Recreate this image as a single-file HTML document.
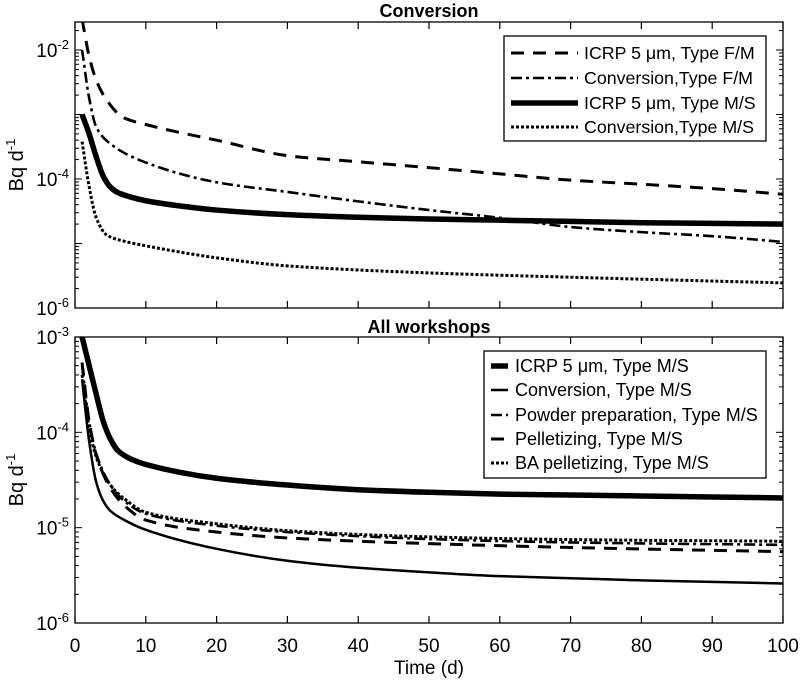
<!DOCTYPE html>
<html><head><meta charset="utf-8"><style>
html,body{margin:0;padding:0;background:#fff;}
svg text{font-family:"Liberation Sans",Arial,sans-serif;fill:#000;}
</style></head><body>
<svg id="chart" width="800" height="683" viewBox="0 0 800 683" xmlns="http://www.w3.org/2000/svg"></svg>
<script>
// ---- data ----
const topT_icrpFM = [1,2,3,4.5,6.8,10,15,20,30,40,50,60,70,80,90,100];
const topV_icrpFM = [0.03,0.008,3.4e-3,1.66e-3,9e-4,7e-4,5.2e-4,4e-4,2.3e-4,1.85e-4,1.5e-4,1.2e-4,9.6e-5,8.3e-5,7.1e-5,5.8e-5];
const topT_convFM = [1,2,3,5,10,20,30,40,50,60,70,80,90,100];
const topV_convFM = [1e-2,1.8e-3,6.4e-4,3.5e-4,1.8e-4,8.9e-5,6.3e-5,4.5e-5,3.3e-5,2.5e-5,1.8e-5,1.5e-5,1.3e-5,1.06e-5];
const topT_icrpMS = [1,2,3,4,5,6,8,10,15,20,30,40,50,60,70,80,90,100];
const topV_icrpMS = [1e-3,5e-4,2.2e-4,1.1e-4,7.5e-5,6.2e-5,5.2e-5,4.6e-5,3.8e-5,3.3e-5,2.8e-5,2.55e-5,2.4e-5,2.3e-5,2.2e-5,2.1e-5,2.05e-5,2e-5];
const topT_convMS = [1,2,3,4.5,7,10,20,30,50,70,100];
const topV_convMS = [3.8e-4,7.6e-5,2.5e-5,1.35e-5,1.08e-5,9.2e-6,6e-6,4.5e-6,3.5e-6,3e-6,2.45e-6];

const botT_icrpMS = [1,2,3,4,5,6,8,10,20,30,40,50,60,70,80,90,100];
const botV_icrpMS = [1e-3,5e-4,2.5e-4,1.3e-4,8.5e-5,6.5e-5,5.2e-5,4.6e-5,3.3e-5,2.8e-5,2.5e-5,2.35e-5,2.25e-5,2.2e-5,2.15e-5,2.1e-5,2.05e-5];
const botT_conv = [1,2,3,4,5,7,10,20,30,40,50,60,70,80,90,100];
const botV_conv = [3.6e-4,8e-5,3e-5,1.9e-5,1.5e-5,1.2e-5,9.5e-6,6e-6,4.5e-6,3.8e-6,3.4e-6,3.1e-6,2.95e-6,2.8e-6,2.7e-6,2.6e-6];
const botT_powder = [1,2,3,5,7,10,20,30,50,70,100];
const botV_powder = [5e-4,1.3e-4,6e-5,2.8e-5,1.9e-5,1.4e-5,1.05e-5,9e-6,7.6e-6,7e-6,6.6e-6];
const botT_pellet = [1,2,3,5,7,10,20,30,50,70,100];
const botV_pellet = [5.4e-4,1.3e-4,5.8e-5,2.6e-5,1.7e-5,1.2e-5,9e-6,7.8e-6,6.8e-6,6.2e-6,5.6e-6];
const botT_ba = [1,2,3,5,7,10,20,30,50,70,100];
const botV_ba = [4e-4,1.1e-4,5.5e-5,2.8e-5,2e-5,1.45e-5,1.1e-5,9.3e-6,8e-6,7.5e-6,7.2e-6];

const xTicks = [0,10,20,30,40,50,60,70,80,90,100];
const topYLabels = [-6,-4,-2];
const botYLabels = [-6,-5,-4,-3];

// ---- layout ----
const svg = document.getElementById('chart');
const NS = 'http://www.w3.org/2000/svg';
const X0 = 75, X1 = 783;
const xs = t => X0 + (t/100)*(X1-X0);
const topAx = {y0:22, y1:308, lmin:-6, lmax:-6+(308-22)/64.5};
const botAx = {y0:337, y1:623, lmin:-6, lmax:-3};
function ys(ax, v){ return ax.y1 - (Math.log10(v)-ax.lmin)/(ax.lmax-ax.lmin)*(ax.y1-ax.y0); }
function mk(tag, attrs, parent){ const e=document.createElementNS(NS,tag); for(const k in attrs) e.setAttribute(k,attrs[k]); (parent||svg).appendChild(e); return e; }

const defs = mk('defs',{});
[['clipTop',topAx],['clipBot',botAx]].forEach(([id,ax])=>{
  const c = mk('clipPath',{id:id},defs);
  mk('rect',{x:X0,y:ax.y0,width:X1-X0,height:ax.y1-ax.y0},c);
});

// monotone cubic path
function monotonePath(px, py){
  const n = px.length;
  const d = [], m = new Array(n);
  for(let i=0;i<n-1;i++) d.push((py[i+1]-py[i])/(px[i+1]-px[i]));
  m[0]=d[0]; m[n-1]=d[n-2];
  for(let i=1;i<n-1;i++){
    if(d[i-1]*d[i]<=0) m[i]=0;
    else { const w1=2*(px[i+1]-px[i])+(px[i]-px[i-1]), w2=(px[i+1]-px[i])+2*(px[i]-px[i-1]);
      m[i]=(w1+w2)/(w1/d[i-1]+w2/d[i]); }
  }
  let s = 'M'+px[0].toFixed(2)+','+py[0].toFixed(2);
  for(let i=0;i<n-1;i++){
    const h = (px[i+1]-px[i])/3;
    s += 'C'+(px[i]+h).toFixed(2)+','+(py[i]+m[i]*h).toFixed(2)+' '+(px[i+1]-h).toFixed(2)+','+(py[i+1]-m[i+1]*h).toFixed(2)+' '+px[i+1].toFixed(2)+','+py[i+1].toFixed(2);
  }
  return s;
}

function series(ax, clip, T, V, style, name){
  const px = T.map(xs), py = V.map(v=>ys(ax,v));
  const p = mk('path',Object.assign({d:monotonePath(px,py),fill:'none',stroke:'#000','stroke-linejoin':'round','clip-path':'url(#'+clip+')'},style));
  
  
}

function axes(ax, labels, prefix){
  const g = mk('g',{});
  
  
  mk('rect',{x:X0,y:ax.y0,width:X1-X0,height:ax.y1-ax.y0,fill:'none',stroke:'#000','stroke-width':1.3},g);
  xTicks.forEach(t=>{
    const x = xs(t);
    mk('line',{x1:x,x2:x,y1:ax.y1,y2:ax.y1-7,stroke:'#000','stroke-width':1.2},g);
    mk('line',{x1:x,x2:x,y1:ax.y0,y2:ax.y0+7,stroke:'#000','stroke-width':1.2},g);
  });
  for(let e=Math.floor(ax.lmin); e<=Math.ceil(ax.lmax); e++){
    for(let m=1;m<10;m++){
      const l = e + Math.log10(m);
      if(l<ax.lmin-1e-9||l>ax.lmax+1e-9) continue;
      const y = ys(ax, Math.pow(10,l));
      const len = m===1?7:4;
      mk('line',{x1:X0,x2:X0+len,y1:y,y2:y,stroke:'#000','stroke-width':1},g);
      mk('line',{x1:X1,x2:X1-len,y1:y,y2:y,stroke:'#000','stroke-width':1},g);
    }
  }
  labels.forEach(e=>{
    const y = ys(ax, Math.pow(10,e));
    const t = mk('text',{x:X0-6,y:y+7,'text-anchor':'end','font-size':19});
    
    
    t.appendChild(document.createTextNode('10'));
    const s = mk('tspan',{dy:-8,'font-size':13},t); s.textContent = String(e);
  });
  const yl = mk('text',{x:0,y:0,'font-size':20,'text-anchor':'middle',transform:'translate(23,'+((ax.y0+ax.y1)/2)+') rotate(-90)'});
  
  
  yl.appendChild(document.createTextNode('Bq d'));
  const s2 = mk('tspan',{dy:-8,'font-size':13},yl); s2.textContent='-1';
}

axes(topAx, topYLabels, 'top');
axes(botAx, botYLabels, 'bottom');

let tt = mk('text',{x:429,y:17,'text-anchor':'middle','font-size':18,'font-weight':'bold'}); tt.textContent='Conversion';
 
tt = mk('text',{x:429,y:333,'text-anchor':'middle','font-size':18,'font-weight':'bold'}); tt.textContent='All workshops';
 
xTicks.forEach(t=>{
  const l = mk('text',{x:xs(t),y:652,'text-anchor':'middle','font-size':19}); l.textContent=String(t);
   
});
tt = mk('text',{x:429,y:674,'text-anchor':'middle','font-size':19}); tt.textContent='Time (d)';
 

const stDash = {'stroke-width':3,'stroke-dasharray':'13,9'};
const stDashDot = {'stroke-width':2.6,'stroke-dasharray':'11,4,3,4'};
const stThick = {'stroke-width':5.5};
const stThin = {'stroke-width':2.5};
const stDot = {'stroke-width':3,'stroke-dasharray':'3,2'};

series(topAx,'clipTop',topT_icrpFM,topV_icrpFM,stDash,'line-icrp-fm');
series(topAx,'clipTop',topT_convFM,topV_convFM,stDashDot,'line-conversion-fm');
series(topAx,'clipTop',topT_icrpMS,topV_icrpMS,stThick,'line-icrp-ms');
series(topAx,'clipTop',topT_convMS,topV_convMS,stDot,'line-conversion-ms');

series(botAx,'clipBot',botT_icrpMS,botV_icrpMS,stThick,'line-icrp-ms-all');
series(botAx,'clipBot',botT_conv,botV_conv,stThin,'line-conversion-all');
series(botAx,'clipBot',botT_powder,botV_powder,stDashDot,'line-powder-preparation');
series(botAx,'clipBot',botT_pellet,botV_pellet,stDash,'line-pelletizing');
series(botAx,'clipBot',botT_ba,botV_ba,stDot,'line-ba-pelletizing');

function legend(box, entries, lx0, lx1, tx, fs, name){
  const g = mk('g',{});
  
  
  mk('rect',{x:box[0],y:box[1],width:box[2],height:box[3],fill:'#fff',stroke:'#000','stroke-width':1.3},g);
  entries.forEach(([label,st,y])=>{
    mk('line',Object.assign({x1:lx0,x2:lx1,y1:y,y2:y,stroke:'#000'},st),g);
    const t = mk('text',{x:tx,y:y+6,'font-size':fs},g); t.textContent=label;
     
  });
}
legend([504,36,262,105],[
  ['ICRP 5 \u03bcm, Type F/M',stDash,53],
  ['Conversion,Type F/M',stDashDot,78],
  ['ICRP 5 \u03bcm, Type M/S',stThick,103],
  ['Conversion,Type M/S',stDot,127]
],511,578,584,17.8,'top-legend');
legend([484,351,282,127],[
  ['ICRP 5 \u03bcm, Type M/S',stThick,366],
  ['Conversion, Type M/S',stThin,390],
  ['Powder preparation, Type M/S',stDashDot,415],
  ['Pelletizing, Type M/S',stDash,439],
  ['BA pelletizing, Type M/S',stDot,463]
],491,508,515,18,'bottom-legend');
</script>
</body></html>
